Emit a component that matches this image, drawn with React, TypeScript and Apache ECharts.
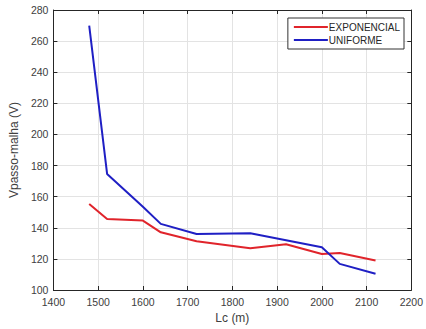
import React, { useEffect, useRef } from "react";
import * as echarts from "echarts";

const lcExp = [1480, 1520, 1600, 1640, 1720, 1840, 1920, 2000, 2040, 2120];
const vExp = [155.3, 145.7, 144.6, 137.1, 131.3, 126.8, 129.4, 123.2, 123.8, 118.9];
const lcUni = [1480, 1520, 1600, 1640, 1720, 1840, 2000, 2040, 2120];
const vUni = [270, 174.6, 153.5, 142.5, 136, 136.5, 127.5, 116.8, 110.5];
const seriesNames = ["EXPONENCIAL", "UNIFORME"];

const textColor = "#404040";
const font = "Liberation Sans, Arial, sans-serif";

export default function App() {
  const ref = useRef<HTMLDivElement>(null);
  useEffect(() => {
    const chart = echarts.init(ref.current!, null, { renderer: "svg" });
    const axisCommon = {
      axisLine: { show: true, lineStyle: { color: "#262626", width: 1 } },
      axisTick: { show: true, inside: true, length: 4, lineStyle: { color: "#262626" } },
    };
    chart.setOption({
      animation: false,
      backgroundColor: "#ffffff",
      grid: { left: 51, right: 11, top: 10, bottom: 39, containLabel: false },
      legend: {
        right: 22,
        top: 18,
        orient: "vertical",
        borderColor: "#333",
        borderWidth: 1,
        backgroundColor: "#fff",
        padding: [4, 4, 4, 6],
        itemGap: 3,
        itemWidth: 34,
        itemHeight: 2,
        icon: "rect",
        textStyle: { fontFamily: font, fontSize: 10, color: "#262626", padding: [0, 0, 0, -4] },
        data: seriesNames,
      },
      xAxis: [
        {
          type: "value",
          min: 1400,
          max: 2200,
          interval: 100,
          name: "Lc (m)",
          nameLocation: "middle",
          nameGap: 21,
          nameTextStyle: { fontFamily: font, fontSize: 12, color: textColor },
          axisLabel: {
            fontFamily: font,
            fontSize: 10.5,
            color: textColor,
            margin: 6,
            formatter: (v: number) => String(v),
          },
          splitLine: { show: true, lineStyle: { color: "#e3e3e3" } },
          ...axisCommon,
        },
        {
          type: "value",
          position: "top",
          min: 1400,
          max: 2200,
          interval: 100,
          axisLabel: { show: false },
          splitLine: { show: false },
          ...axisCommon,
        },
      ],
      yAxis: [
        {
          type: "value",
          min: 100,
          max: 280,
          interval: 20,
          name: "Vpasso-malha (V)",
          nameLocation: "middle",
          nameGap: 24,
          nameTextStyle: { fontFamily: font, fontSize: 12, color: textColor },
          axisLabel: {
            fontFamily: font,
            fontSize: 10.5,
            color: textColor,
            margin: 5,
            formatter: (v: number) => String(v),
          },
          splitLine: { show: true, lineStyle: { color: "#e3e3e3" } },
          ...axisCommon,
        },
        {
          type: "value",
          position: "right",
          min: 100,
          max: 280,
          interval: 20,
          axisLabel: { show: false },
          splitLine: { show: false },
          ...axisCommon,
        },
      ],
      series: [
        {
          name: seriesNames[0],
          type: "line",
          data: lcExp.map((x, i) => [x, vExp[i]]),
          showSymbol: false,
          symbol: "none",
          lineStyle: { color: "#e0242b", width: 2 },
          itemStyle: { color: "#e0242b" },
        },
        {
          name: seriesNames[1],
          type: "line",
          data: lcUni.map((x, i) => [x, vUni[i]]),
          showSymbol: false,
          symbol: "none",
          lineStyle: { color: "#1f1fc4", width: 2 },
          itemStyle: { color: "#1f1fc4" },
        },
      ],
    });
    return () => chart.dispose();
  }, []);
  return (
    <div
      ref={ref}
      style={{ position: "fixed", left: 0, top: 0, width: 426, height: 329, background: "#fff" }}
    />
  );
}
